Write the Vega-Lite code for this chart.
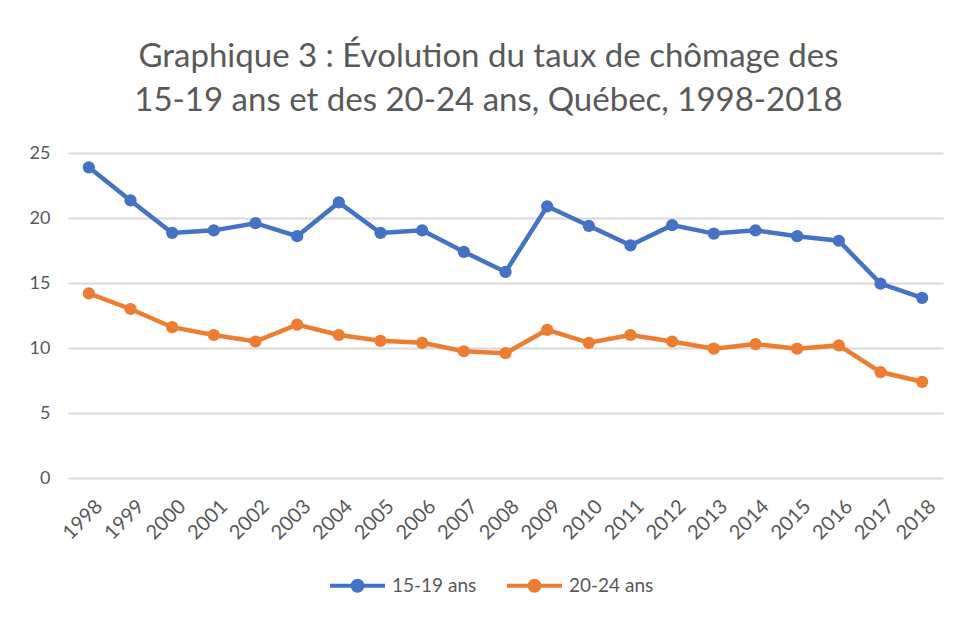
{
  "$schema": "https://vega.github.io/schema/vega-lite/v6.json",
  "autosize": {"type": "none"},
  "width": 875,
  "height": 325,
  "padding": {"left": 68, "top": 153, "right": 15, "bottom": 139},
  "background": "white",
  "config": {"view": {"stroke": null}},
  "title": {
    "text": ["Graphique 3 : Évolution du taux de chômage des", "15-19 ans et des 20-24 ans, Québec, 1998-2018"],
    "font": "Lato",
    "fontSize": 33,
    "fontWeight": "normal",
    "color": "#595959",
    "anchor": "middle",
    "dx": -17,
    "lineHeight": 44,
    "offset": 26
  },
  "data": {
    "values": [
      {"annee": "1998", "groupe": "15-19 ans", "taux": 23.9},
      {"annee": "1999", "groupe": "15-19 ans", "taux": 21.35},
      {"annee": "2000", "groupe": "15-19 ans", "taux": 18.85},
      {"annee": "2001", "groupe": "15-19 ans", "taux": 19.05},
      {"annee": "2002", "groupe": "15-19 ans", "taux": 19.6},
      {"annee": "2003", "groupe": "15-19 ans", "taux": 18.6},
      {"annee": "2004", "groupe": "15-19 ans", "taux": 21.2},
      {"annee": "2005", "groupe": "15-19 ans", "taux": 18.85},
      {"annee": "2006", "groupe": "15-19 ans", "taux": 19.05},
      {"annee": "2007", "groupe": "15-19 ans", "taux": 17.4},
      {"annee": "2008", "groupe": "15-19 ans", "taux": 15.85},
      {"annee": "2009", "groupe": "15-19 ans", "taux": 20.9},
      {"annee": "2010", "groupe": "15-19 ans", "taux": 19.4},
      {"annee": "2011", "groupe": "15-19 ans", "taux": 17.9},
      {"annee": "2012", "groupe": "15-19 ans", "taux": 19.45},
      {"annee": "2013", "groupe": "15-19 ans", "taux": 18.8},
      {"annee": "2014", "groupe": "15-19 ans", "taux": 19.05},
      {"annee": "2015", "groupe": "15-19 ans", "taux": 18.6},
      {"annee": "2016", "groupe": "15-19 ans", "taux": 18.25},
      {"annee": "2017", "groupe": "15-19 ans", "taux": 14.95},
      {"annee": "2018", "groupe": "15-19 ans", "taux": 13.85},
      {"annee": "1998", "groupe": "20-24 ans", "taux": 14.2},
      {"annee": "1999", "groupe": "20-24 ans", "taux": 13.0},
      {"annee": "2000", "groupe": "20-24 ans", "taux": 11.6},
      {"annee": "2001", "groupe": "20-24 ans", "taux": 11.0},
      {"annee": "2002", "groupe": "20-24 ans", "taux": 10.5},
      {"annee": "2003", "groupe": "20-24 ans", "taux": 11.8},
      {"annee": "2004", "groupe": "20-24 ans", "taux": 11.0},
      {"annee": "2005", "groupe": "20-24 ans", "taux": 10.55},
      {"annee": "2006", "groupe": "20-24 ans", "taux": 10.4},
      {"annee": "2007", "groupe": "20-24 ans", "taux": 9.75},
      {"annee": "2008", "groupe": "20-24 ans", "taux": 9.6},
      {"annee": "2009", "groupe": "20-24 ans", "taux": 11.4},
      {"annee": "2010", "groupe": "20-24 ans", "taux": 10.4},
      {"annee": "2011", "groupe": "20-24 ans", "taux": 11.0},
      {"annee": "2012", "groupe": "20-24 ans", "taux": 10.5},
      {"annee": "2013", "groupe": "20-24 ans", "taux": 9.95},
      {"annee": "2014", "groupe": "20-24 ans", "taux": 10.3},
      {"annee": "2015", "groupe": "20-24 ans", "taux": 9.95},
      {"annee": "2016", "groupe": "20-24 ans", "taux": 10.2},
      {"annee": "2017", "groupe": "20-24 ans", "taux": 8.15},
      {"annee": "2018", "groupe": "20-24 ans", "taux": 7.4}
    ]
  },
  "encoding": {
    "x": {
      "field": "annee",
      "type": "ordinal",
      "title": null,
      "scale": {"type": "point", "padding": 0.5},
      "axis": {
        "labelAngle": -45,
        "labelAlign": "right",
        "labelBaseline": "top",
        "labelPadding": 18,
        "labelOffset": 3,
        "labelFont": "Lato",
        "labelFontSize": 20,
        "labelColor": "#595959",
        "ticks": false,
        "domain": false,
        "grid": false,
        "labelOverlap": false
      }
    },
    "y": {
      "field": "taux",
      "type": "quantitative",
      "title": null,
      "scale": {"domain": [0, 25], "nice": false},
      "axis": {
        "values": [0, 5, 10, 15, 20, 25],
        "labelFont": "Lato",
        "labelFontSize": 18,
        "labelColor": "#595959",
        "labelPadding": 18,
        "ticks": false,
        "domain": false,
        "gridColor": "#D9D9D9",
        "gridWidth": 2
      }
    },
    "color": {
      "field": "groupe",
      "type": "nominal",
      "title": null,
      "scale": {"domain": ["15-19 ans", "20-24 ans"], "range": ["#4472C4", "#ED7D31"]},
      "legend": {
        "orient": "none",
        "direction": "horizontal",
        "legendX": 260,
        "legendY": 403,
        "labelFont": "Lato",
        "labelFontSize": 19,
        "labelColor": "#595959",
        "labelOffset": 5,
        "columnPadding": 22,
        "symbolSize": 3025,
        "symbolStrokeWidth": 4,
        "symbolType": "M-1,0L1,0M-0.18,0A0.18,0.18,0,1,0,0.18,0A0.18,0.18,0,1,0,-0.18,0Z",
        "encode": {
          "symbols": {
            "update": {
              "fill": {"scale": "color", "field": "value"},
              "stroke": {"scale": "color", "field": "value"}
            }
          }
        }
      }
    }
  },
  "layer": [
    {"mark": {"type": "line", "strokeWidth": 4.5}},
    {"mark": {"type": "point", "filled": true, "size": 150, "opacity": 1}}
  ]
}
